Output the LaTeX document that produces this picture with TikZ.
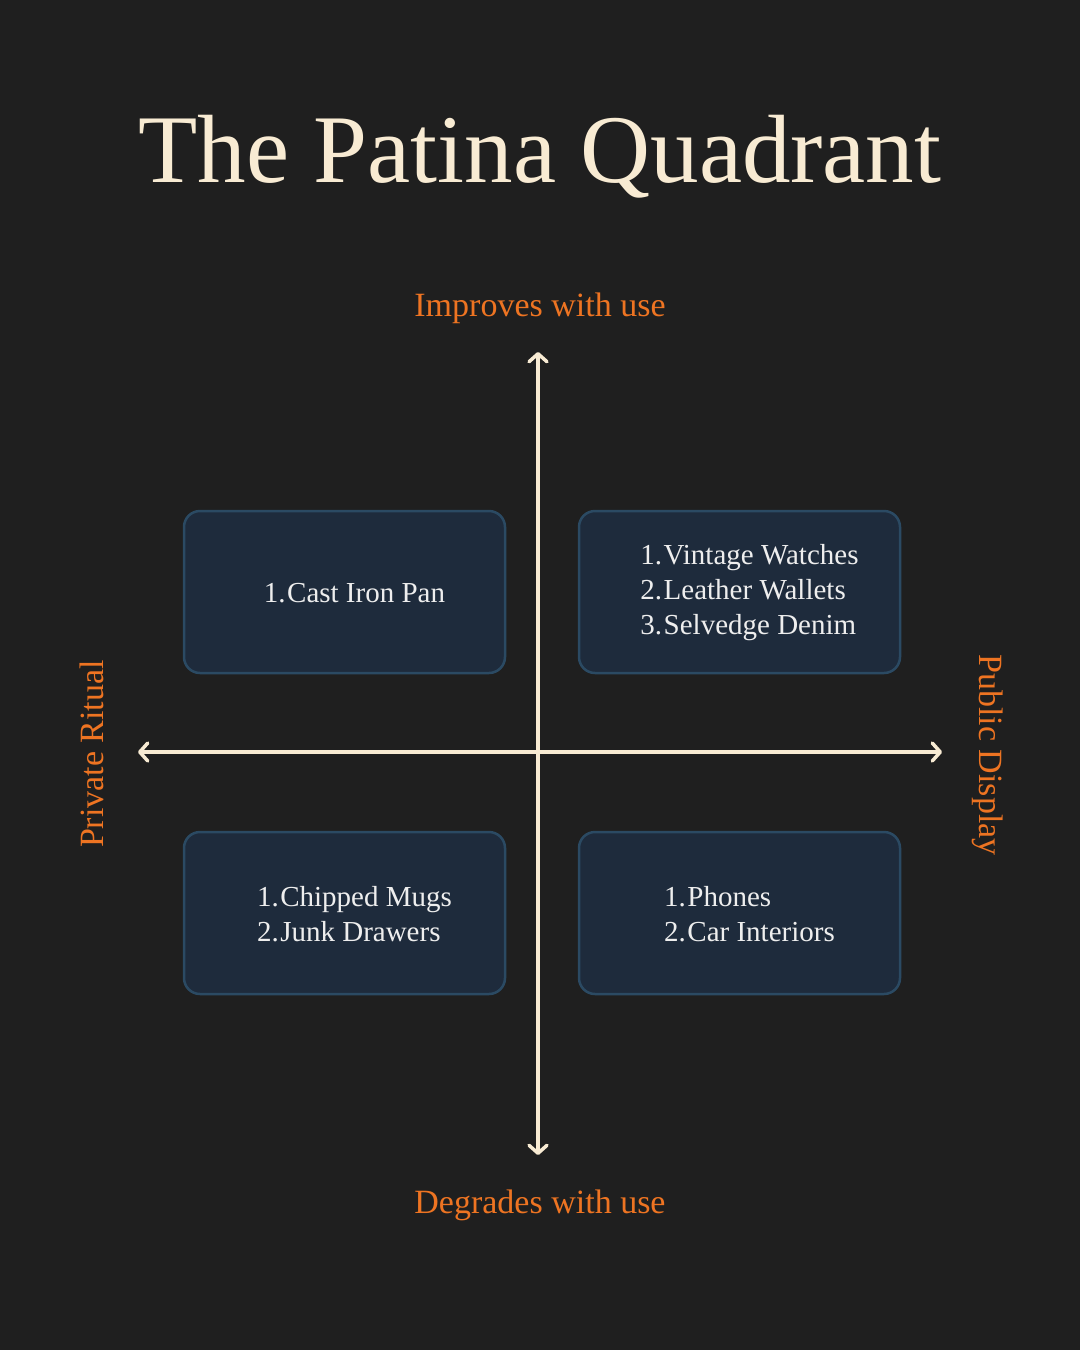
\documentclass[tikz,border=0pt]{standalone}
\usepackage{fontspec}
\setmainfont{Liberation Serif}
\usetikzlibrary{arrows.meta}
\definecolor{bg}{HTML}{1F1F1F}
\definecolor{cream}{HTML}{F8EBD3}
\definecolor{accent}{HTML}{EE7422}
\definecolor{boxfill}{HTML}{1E2B3C}
\definecolor{boxline}{HTML}{2B4A63}
\definecolor{itemtext}{HTML}{EEEEEE}
\tikzset{
  quad/.style={draw=boxline, line width=2.5pt, fill=boxfill, rounded corners=16pt,
    minimum width=321pt, minimum height=162pt, inner sep=0pt},
  items/.style={text=itemtext, align=left, font=\fontsize{29}{35}\selectfont, inner sep=0pt},
  axislabel/.style={text=accent, font=\fontsize{34}{38}\selectfont, inner sep=0pt},
  axisline/.style={draw=cream, line width=3.5pt,
    arrows={Straight Barb[length=8pt, width=18pt, line width=3.5pt, line cap=round, line join=round]-Straight Barb[length=8pt, width=18pt, line width=3.5pt, line cap=round, line join=round]}}
}
\newcommand{\num}[1]{#1.\kern1.5pt}
\begin{document}
\begin{tikzpicture}[x=1pt, y=-1pt]
\fill[bg] (0,0) rectangle (1080,1350);
\useasboundingbox (0,0) rectangle (1080,1350);
\node[text=cream, font=\fontsize{97}{104}\selectfont, inner sep=0pt] (title) at (540,157) {The Patina Quadrant};

\node[axislabel] (top) at (540,308) {Improves with use};
\node[axislabel] (bottom) at (540,1205) {Degrades with use};
\node[axislabel, rotate=90] (left) at (92,754) {Private Ritual};
\node[axislabel, rotate=-90] (right) at (988,755) {Public Display};

\coordinate (vtop) at (538,352);
\coordinate (vbot) at (538,1155);
\coordinate (hl) at (138,752);
\coordinate (hr) at (942,752);

\node[quad] (tl) at (344.5,592) {};
\node[quad] (tr) at (739.5,592) {};
\node[quad] (bl) at (344.5,913) {};
\node[quad] (br) at (739.5,913) {};

\draw[axisline] (vbot) -- (vtop);
\draw[axisline] (hl) -- (hr);

\node[items] (tlt) at ([xshift=10pt, yshift=-1pt]tl.center) {\num1Cast Iron Pan};
\node[items] (trt) at ([xshift=10pt, yshift=-1pt]tr.center) {\num1Vintage Watches\\\num2Leather Wallets\\\num3Selvedge Denim};
\node[items] (blt) at ([xshift=10pt, yshift=-1pt]bl.center) {\num1Chipped Mugs\\\num2Junk Drawers};
\node[items] (brt) at ([xshift=10pt, yshift=-1pt]br.center) {\num1Phones\\\num2Car Interiors};
\end{tikzpicture}
\end{document}
